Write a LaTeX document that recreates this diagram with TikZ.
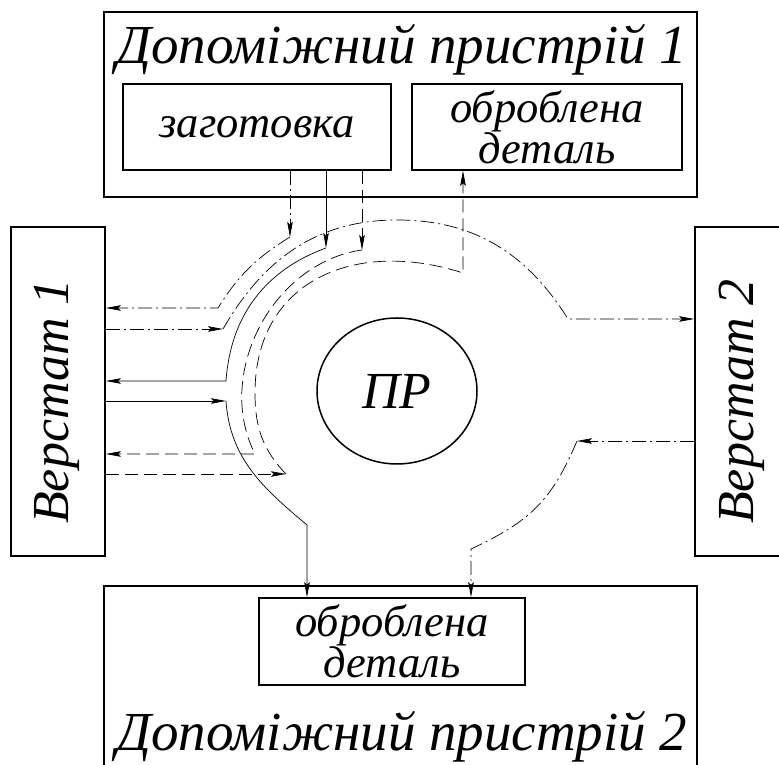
\documentclass[tikz,border=0pt]{standalone}
\usepackage{fontspec}
\setmainfont{Liberation Serif}
\usetikzlibrary{arrows.meta,positioning,shapes.geometric}

\tikzset{
  box/.style={draw, line width=1.5pt, inner sep=0pt},
  big/.style={font=\fontsize{55}{55}\selectfont\itshape},
  mid/.style={font=\fontsize{52}{52}\selectfont\itshape},
  small/.style={font=\fontsize{44.5}{40}\selectfont\itshape, align=center},
  link/.style={line width=0.7pt, -{Stealth[length=15pt,width=5.5pt,inset=2.5pt]}},
  dd/.style={dash pattern=on 14pt off 4pt on 2pt off 4pt},
  ds/.style={dash pattern=on 13pt off 6pt},
}

\begin{document}
\begin{tikzpicture}[x=1pt,y=1pt]
\useasboundingbox (0,0) rectangle (779,765);
\node[box, minimum width=593pt, minimum height=185pt] (d1) at (400.5,660.5) {};
\node[big, anchor=base] (t1) at (402,701) {Допоміжний пристрій 1};
\node[box, small, minimum width=268pt, minimum height=86pt] (z) at (257,638) {заготовка};
\node[box, small, minimum width=270pt, minimum height=86pt] (o1) at (547,638) {оброблена\\деталь};
\node[box, minimum width=94pt, minimum height=329pt] (m1) at (58,373.5) {};
\node[mid, rotate=90] (v1) at ([xshift=-1pt,yshift=-10pt]m1.center) {Верстат 1};
\node[box, minimum width=85pt, minimum height=329pt] (m2) at (737.5,373.5) {};
\node[mid, rotate=90] (v2) at ([xshift=4pt,yshift=-10pt]m2.center) {Верстат 2};
\node[box, minimum width=593pt, minimum height=200pt] (d2) at (400.5,79) {};
\node[big, anchor=base] (t2) at (402,14) {Допоміжний пристрій 2};
\node[box, small, minimum width=266pt, minimum height=87pt] (o2) at (392,123.5) {оброблена\\деталь};
\node[draw, line width=1.5pt, ellipse, minimum width=160pt, minimum height=146pt, mid] (r) at (397,374) {ПР};
\coordinate (a1) at (290,528);
\coordinate (a2) at (218,457);
\coordinate (b1) at (223,436);
\coordinate (b3) at (397,545);
\coordinate (b2) at (568,446);
\coordinate (c1) at (577,324);
\coordinate (c2) at (471,216);
\coordinate (s1) at (326,517);
\coordinate (s2) at (226,384);
\coordinate (s3) at (226,364);
\coordinate (s4) at (307,240);
\coordinate (l1) at (362,515);
\coordinate (l2) at (255,311);
\coordinate (n1) at (286,291);
\coordinate (n3) at (255,372);
\coordinate (n2) at (463,492);
\draw[link,dd] (z.south -| a1) -- (a1);
\draw[link,dd] (a1) to[out=212,in=58] (a2) -- (m1.east |- a2);
\draw[link,dd] (m1.east |- b1) -- (b1);
\draw[link,dd] (b1) to[out=60,in=180] (b3) to[out=0,in=122] (b2) -- (m2.west |- b2);
\draw[link,dd] (m2.west |- c1) -- (c1);
\draw[link,dd] (c1) to[out=247,in=25,looseness=1.1] (c2) -- (o2.north -| c2);
\draw[link] (z.south -| s1) -- (s1);
\draw[link] (s1) to[out=200,in=86] (s2) -- (m1.east |- s2);
\draw[link] (m1.east |- s3) -- (s3);
\draw[link] (s3) to[out=274,in=140] (s4) -- (o2.north -| s4);
\draw[link,ds] (z.south -| l1) -- (l1);
\draw[link,ds] (l1) to[out=188,in=117] (l2) -- (m1.east |- l2);
\draw[link,ds] (m1.east |- n1) -- (n1);
\draw[link,ds] (n1) to[out=134,in=270] (n3) to[out=90,in=162,looseness=1.2] (n2) -- (o1.south -| n2);
\end{tikzpicture}
\end{document}
